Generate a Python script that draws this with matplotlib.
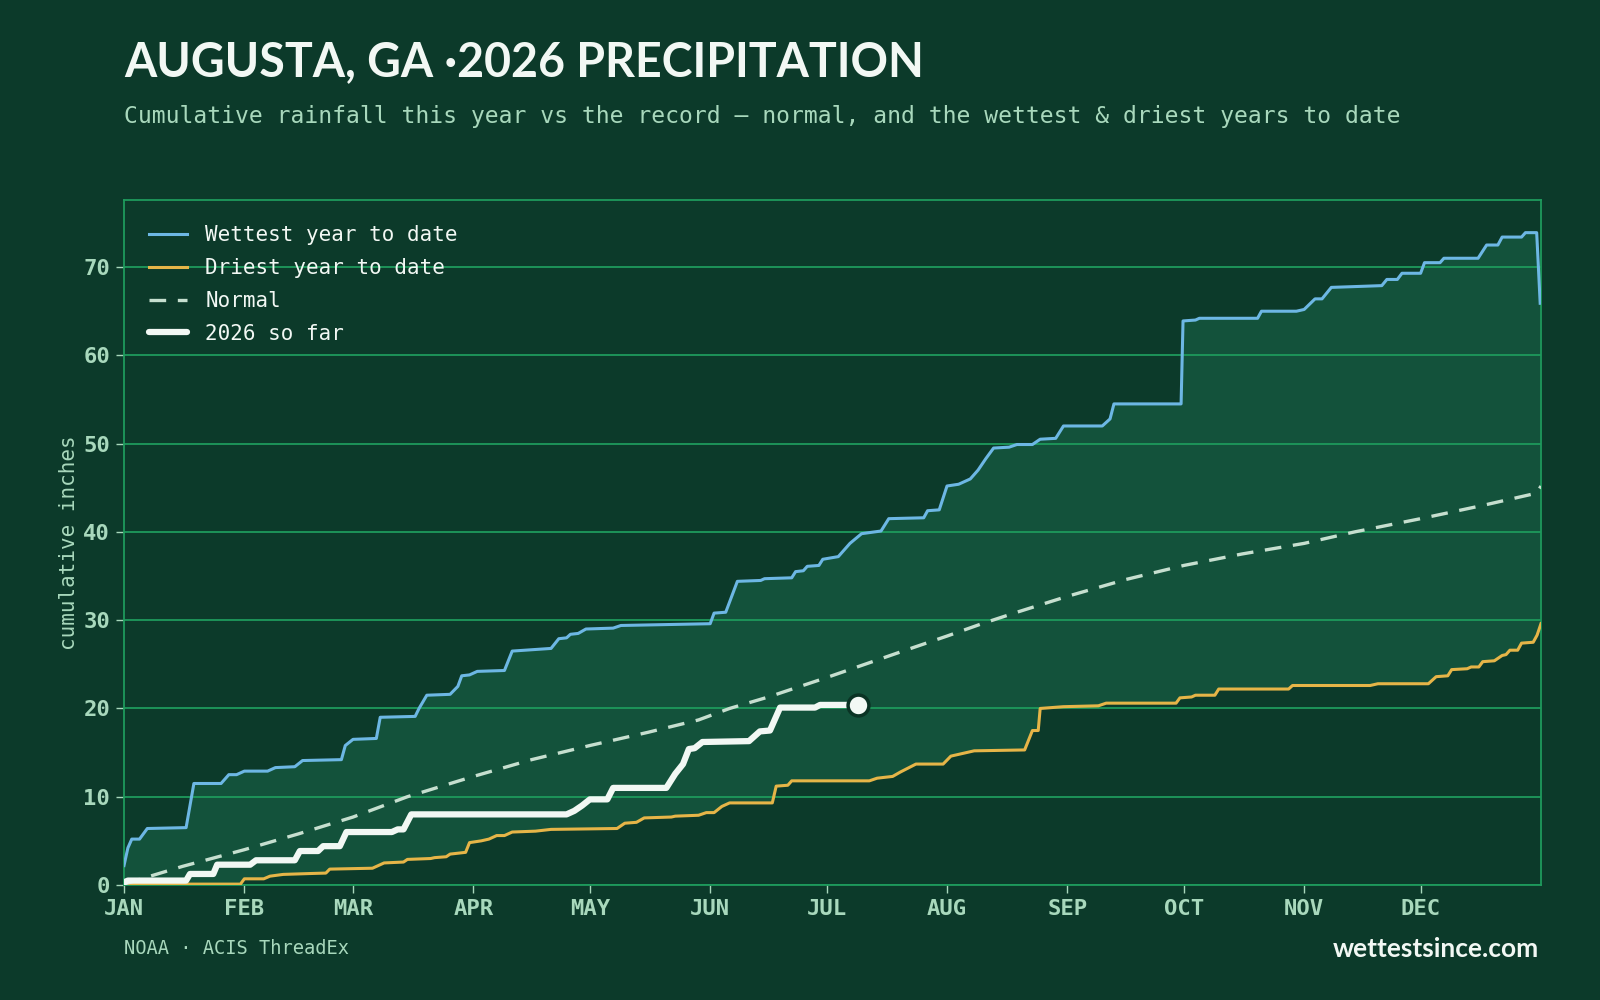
import numpy as np
import matplotlib
matplotlib.use("Agg")
import matplotlib.pyplot as plt

# colours
BG = "#0c3a2a"
BAND = "#13523b"
GRID = "#1e9a5c"
MINT = "#a8d8bc"
WHITE = "#f2f8f4"
WET_C = "#6db7e4"
DRY_C = "#e6b548"
NORM_C = "#c6dfcf"

# month ticks (day of year, 2026 is not a leap year)
month_days = [0, 31, 59, 90, 120, 151, 181, 212, 243, 273, 304, 334]
month_labels = ["JAN", "FEB", "MAR", "APR", "MAY", "JUN", "JUL", "AUG", "SEP", "OCT", "NOV", "DEC"]

# wettest year to date
wet_days = [0, 1, 2, 4, 6, 16, 18, 25, 27, 29, 31, 37, 39, 44, 46, 56, 57, 59, 65, 66, 75, 76, 78, 84, 86,
            87, 89, 91, 98, 100, 110, 112, 114, 115, 117, 119, 126, 128, 151, 152, 155, 158, 164, 165, 172,
            173, 175, 176, 179, 180, 184, 187, 190, 195, 197, 206, 207, 210, 212, 215, 216, 218, 220, 222,
            224, 228, 230, 234, 236, 240, 242, 252, 254, 255, 272.3, 272.8, 276, 277, 292, 293, 302, 304,
            306.8, 308.6, 311, 317.6, 324, 325.3, 328, 329.2, 334, 335, 339, 340, 348.8, 351, 353.9, 355,
            360, 361, 363.9, 364.8]
wet_vals = [2.2, 4.2, 5.2, 5.2, 6.4, 6.5, 11.5, 11.5, 12.5, 12.5, 12.9, 12.9, 13.3, 13.4, 14.1, 14.2, 15.8,
            16.5, 16.6, 19.0, 19.1, 20.0, 21.5, 21.6, 22.5, 23.7, 23.8, 24.2, 24.3, 26.5, 26.8, 27.9, 28.0,
            28.4, 28.5, 29.0, 29.1, 29.4, 29.6, 30.8, 30.9, 34.4, 34.5, 34.7, 34.8, 35.5, 35.6, 36.1, 36.2,
            36.9, 37.2, 38.7, 39.8, 40.1, 41.5, 41.6, 42.4, 42.5, 45.2, 45.4, 45.6, 46.0, 47.0, 48.3, 49.5,
            49.6, 49.9, 49.9, 50.5, 50.6, 52.0, 52.0, 52.8, 54.5, 54.5, 63.9, 64.0, 64.2, 64.2, 65.0, 65.0,
            65.2, 66.4, 66.4, 67.7, 67.8, 67.9, 68.6, 68.6, 69.3, 69.3, 70.5, 70.5, 71.0, 71.0, 72.5, 72.5,
            73.4, 73.4, 73.9, 73.9, 65.9]

# driest year to date
dry_days = [0, 30, 31, 36, 37.6, 41, 48, 52, 53, 64, 65, 67, 72, 73, 79, 80, 83, 84, 88, 89, 92, 94, 96, 98,
            100, 106, 110, 127, 129, 132, 134, 141, 142, 148, 150, 152, 154, 156, 167, 168, 171, 172, 192,
            194, 198, 200, 204, 211, 213, 216, 219, 232, 234, 235.5, 236, 242, 251, 253, 271, 272, 275, 276,
            281, 282, 300, 301, 321, 323, 336, 338, 341, 342, 346, 347, 349, 350, 353, 355, 356, 357, 359,
            360, 363, 364, 365]
dry_vals = [0.1, 0.1, 0.7, 0.7, 1.0, 1.2, 1.3, 1.35, 1.8, 1.9, 2.1, 2.5, 2.6, 2.9, 3.0, 3.1, 3.2, 3.5, 3.7,
            4.8, 5.0, 5.2, 5.6, 5.6, 6.0, 6.1, 6.3, 6.4, 7.0, 7.1, 7.6, 7.7, 7.8, 7.9, 8.2, 8.2, 8.9, 9.3,
            9.3, 11.2, 11.3, 11.8, 11.8, 12.1, 12.3, 12.8, 13.7, 13.7, 14.6, 14.9, 15.2, 15.3, 17.5, 17.5,
            20.0, 20.2, 20.3, 20.6, 20.6, 21.2, 21.3, 21.5, 21.5, 22.2, 22.2, 22.6, 22.6, 22.8, 22.8, 23.6,
            23.7, 24.4, 24.5, 24.7, 24.7, 25.3, 25.4, 26.0, 26.1, 26.6, 26.6, 27.4, 27.5, 28.3, 29.6]

# normal
norm_days = [0, 15, 31, 45, 59, 73, 90, 105, 120, 135, 148, 156, 166, 181, 200, 212, 221, 230, 243, 258,
             273, 288, 304, 317, 334, 350, 364, 365]
norm_vals = [0.1, 2.1, 4.0, 5.8, 7.7, 10.0, 12.3, 14.2, 15.8, 17.3, 18.7, 20.0, 21.3, 23.5, 26.4, 28.2,
             29.6, 30.9, 32.7, 34.6, 36.2, 37.5, 38.7, 40.0, 41.5, 43.0, 44.4, 45.2]

# 2026 so far
cur_days = [0, 1, 16, 17, 23, 24, 32.5, 34, 44, 45.3, 50, 51.3, 55.6, 57.3, 69, 70.5, 72, 74, 114, 116,
            118, 120, 124.5, 126, 139.7, 142, 144, 145.5, 147, 149, 161, 163.8, 166.4, 169, 178, 179.3, 189.2]
cur_vals = [0.3, 0.5, 0.5, 1.25, 1.25, 2.3, 2.3, 2.8, 2.8, 3.85, 3.85, 4.4, 4.4, 6.0, 6.0, 6.3, 6.3, 8.0,
            8.0, 8.4, 9.0, 9.7, 9.7, 11.0, 11.0, 12.6, 13.7, 15.4, 15.5, 16.2, 16.3, 17.4, 17.5, 20.1, 20.1,
            20.4, 20.4]

plt.rcParams['font.family'] = ['DejaVu Sans Mono']

fig = plt.figure(figsize=(16, 10), dpi=100)
fig.patch.set_facecolor(BG)
ax = fig.add_axes([0.0775, 0.115, 0.8856, 0.685])
ax.set_facecolor(BG)

ax.fill(np.concatenate([wet_days, dry_days[::-1]]), np.concatenate([wet_vals, dry_vals[::-1]]),
        color=BAND, lw=0, zorder=0.3)
ax.plot(wet_days, wet_vals, color=WET_C, lw=2.2, label="Wettest year to date", zorder=3)
ax.plot(dry_days, dry_vals, color=DRY_C, lw=2.2, label="Driest year to date", zorder=3)
ax.plot(norm_days, norm_vals, color=NORM_C, lw=2.4, dashes=(5, 3.5), label="Normal", zorder=3)
ax.plot(cur_days, cur_vals, color=WHITE, lw=4.5, solid_capstyle="round", solid_joinstyle="round",
        label="2026 so far", zorder=4)
ax.plot(cur_days[-1], cur_vals[-1], "o", ms=15, mfc=WHITE, mec="#0a3324", mew=2.5, zorder=5)

ax.set_xlim(0, 365)
ax.set_ylim(0, 77.6)
ax.set_xticks(month_days)
ax.set_xticklabels(month_labels)
ax.set_yticks(range(0, 80, 10))
ax.grid(axis="y", color=GRID, lw=1.3)
ax.set_axisbelow(True)
for s in ax.spines.values():
    s.set_color(GRID)
    s.set_linewidth(1.3)
ax.tick_params(colors=MINT, length=6, width=1, labelsize=16, pad=4)
for lab in ax.get_xticklabels() + ax.get_yticklabels():
    lab.set_fontweight("bold")
ax.set_ylabel("cumulative inches", color=MINT, fontsize=15, labelpad=3)

leg = ax.legend(loc="upper left", frameon=False, fontsize=15, labelcolor=WHITE,
                handlelength=1.8, borderaxespad=0.8, labelspacing=0.62, handletextpad=0.9)

fig.text(0.0775, 0.9235, "AUGUSTA, GA \u00b72026 PRECIPITATION", color=WHITE, fontsize=33.5,
         fontweight="bold", family=["Lato", "DejaVu Sans"], va="baseline")
fig.text(0.0775, 0.884, "Cumulative rainfall this year vs the record \u2014 normal, and the wettest & driest years to date",
         color=MINT, fontsize=16.6, va="center")
fig.text(0.0775, 0.052, "NOAA \u00b7 ACIS ThreadEx", color=MINT, fontsize=13.5, va="center")
fig.text(0.962, 0.051, "wettestsince.com", color=WHITE, fontsize=19, fontweight="bold",
         family=["Lato", "DejaVu Sans"], ha="right", va="center")

fig.savefig("out.png", dpi=100, facecolor=BG)
